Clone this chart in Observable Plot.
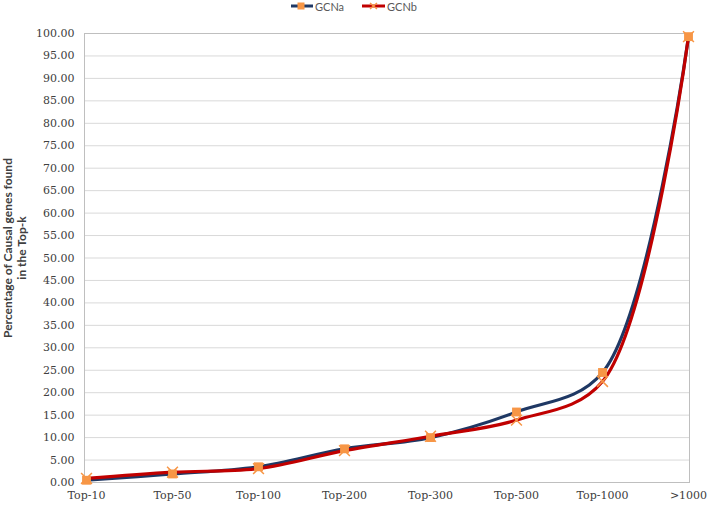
<!DOCTYPE html>
<html>
<head>
<meta charset="utf-8">
<script src="https://cdn.jsdelivr.net/npm/d3@7"></script>
<script src="https://cdn.jsdelivr.net/npm/@observablehq/plot@0.6"></script>
<style>
  body { margin: 0; background: #fff; width: 707px; height: 506px; overflow: hidden; }
  #legend { height: 12px; position: relative; font-family: Lato, "Open Sans", sans-serif; font-size: 11px; color: #595959; }
  .item { position: absolute; top: 0; display: flex; align-items: center; height: 12px; }
  .item svg { margin-right: 2px; }
  #chart svg text { font-family: "DejaVu Serif", serif; }
  #chart svg text.ylab { font-family: Lato, "Open Sans", sans-serif; }
</style>
</head>
<body>
<div id="legend">
  <div class="item" style="left:291px">
    <svg width="22" height="10"><line x1="0" y1="5" x2="22" y2="5" stroke="#1F3864" stroke-width="3"/><rect x="6.5" y="1.5" width="7" height="7" fill="#F79646"/></svg>GCNa
  </div>
  <div class="item" style="left:362px">
    <svg width="23" height="10"><line x1="0" y1="5" x2="23" y2="5" stroke="#C00000" stroke-width="3"/><path d="M8,2L15,8M15,2L8,8" stroke="#F79646" stroke-width="1.5"/></svg>GCNb
  </div>
</div>
<div id="chart"></div>
<script>
const categories = ["Top-10", "Top-50", "Top-100", "Top-200", "Top-300", "Top-500", "Top-1000", ">1000"];
const gcnaValues = [0.5, 1.9, 3.5, 7.5, 10.0, 15.7, 24.5, 99.3];
const gcnbValues = [0.9, 2.3, 3.1, 7.1, 10.3, 13.9, 22.5, 99.3];
const yTicks = d3.range(0, 100.001, 5);
const yLabelLines = ["Percentage of Causal genes found", "in the Top-k"];

const gcna = categories.map((c, i) => ({cat: c, v: gcnaValues[i]}));
const gcnb = categories.map((c, i) => ({cat: c, v: gcnbValues[i]}));

const serif = "DejaVu Serif";
const labelFont = {frameAnchor: "left", textAnchor: "middle", rotate: -90, dy: -10, fontWeight: "bold", fontSize: 12, fill: "#404040", className: "ylab"};
const chart = Plot.plot({
  width: 707,
  height: 494,
  marginLeft: 84,
  marginRight: 18,
  marginTop: 21,
  marginBottom: 24,
  style: {fontSize: "11px", color: "#404040", background: "#fff"},
  x: {type: "point", domain: categories, padding: 0, label: null},
  y: {domain: [0, 100], label: null},
  marks: [
    Plot.gridY(yTicks, {stroke: "#D9D9D9", strokeOpacity: 1}),
    Plot.frame({stroke: "#BFBFBF"}),
    Plot.axisY(yTicks, {tickSize: 0, tickPadding: 10, tickFormat: d => d.toFixed(2), fontSize: 11, fontFamily: serif, fill: "#404040"}),
    Plot.axisX({tickSize: 0, tickPadding: 9, fontSize: 11, fontFamily: serif, fill: "#404040"}),
    Plot.line(gcna, {x: "cat", y: "v", stroke: "#1F3864", strokeWidth: 3.2, curve: "catmull-rom"}),
    Plot.line(gcnb, {x: "cat", y: "v", stroke: "#C00000", strokeWidth: 3.2, curve: "catmull-rom"}),
    Plot.dot(gcna, {x: "cat", y: "v", symbol: "square", r: 5, fill: "#F79646", stroke: "none"}),
    Plot.dot(gcnb, {x: "cat", y: "v", symbol: "times", r: 5, stroke: "#F79646", strokeWidth: 1.5}),
    Plot.text([yLabelLines[0]], {...labelFont, dx: -76}),
    Plot.text([yLabelLines[1]], {...labelFont, dx: -62})
  ]
});
document.getElementById("chart").appendChild(chart);
chart.querySelectorAll("g.ylab text").forEach(t => t.setAttribute("class", "ylab"));
</script>
</body>
</html>
